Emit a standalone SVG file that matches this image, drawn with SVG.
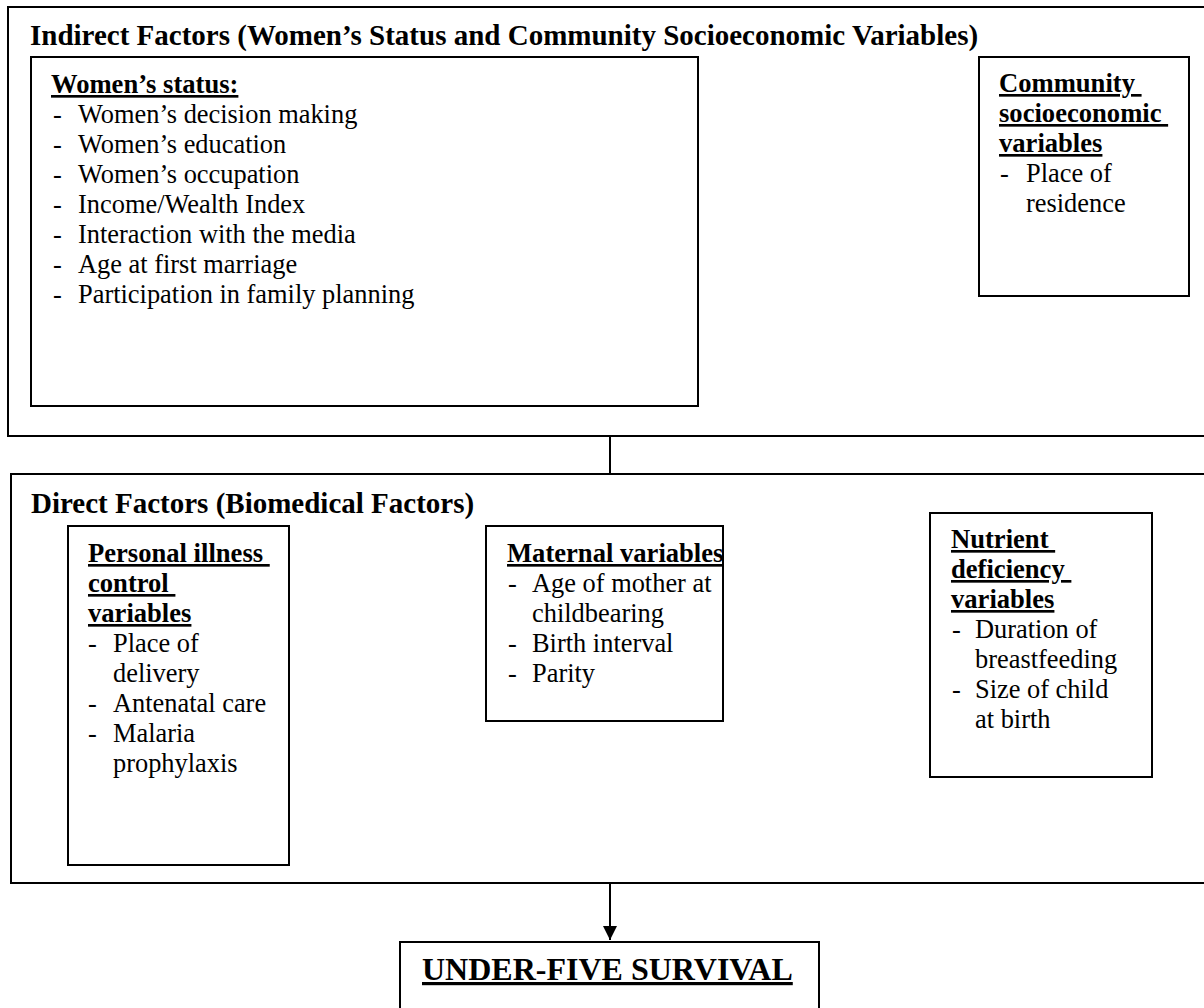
<svg xmlns="http://www.w3.org/2000/svg" width="1204" height="1008" viewBox="0 0 1204 1008">
<defs>
<style>
.box{fill:#fff;stroke:#000;stroke-width:2}
.frame{fill:none;stroke:#000;stroke-width:2}
text{font-family:"Liberation Serif","Times New Roman",serif;fill:#000}
.t{font-size:29px;font-weight:bold}
.h{font-size:26.6px;font-weight:bold;text-decoration:underline}
.i{font-size:26.4px}
.big{font-size:32px;font-weight:bold;text-decoration:underline}
.conn{stroke:#000;stroke-width:2;fill:none}
</style>
<marker id="arr" markerWidth="14" markerHeight="14" refX="14" refY="7" orient="auto" markerUnits="userSpaceOnUse">
<path d="M0,0 L14,7 L0,14 Z" fill="#000"/>
</marker>
</defs>
<rect width="1204" height="1008" fill="#fff"/>

<g id="indirect">
<rect class="frame" x="8" y="7" width="1210" height="429"/>
<text class="t" x="30" y="45">Indirect Factors (Women’s Status and Community Socioeconomic Variables)</text>
</g>

<g id="womens-status">
<rect class="box" x="31" y="57" width="667" height="349"/>
<text class="h" x="51" y="93">Women’s status:</text>
<text class="i" x="53" y="123">-</text><text class="i" x="78" y="123">Women’s decision making</text>
<text class="i" x="53" y="153">-</text><text class="i" x="78" y="153">Women’s education</text>
<text class="i" x="53" y="183">-</text><text class="i" x="78" y="183">Women’s occupation</text>
<text class="i" x="53" y="213">-</text><text class="i" x="78" y="213">Income/Wealth Index</text>
<text class="i" x="53" y="243">-</text><text class="i" x="78" y="243">Interaction with the media</text>
<text class="i" x="53" y="273">-</text><text class="i" x="78" y="273">Age at first marriage</text>
<text class="i" x="53" y="303">-</text><text class="i" x="78" y="303">Participation in family planning</text>
</g>

<g id="community">
<rect class="box" x="979" y="57" width="210" height="239"/>
<text class="h" x="999" y="92" xml:space="preserve">Community </text>
<text class="h" x="999" y="122" xml:space="preserve">socioeconomic </text>
<text class="h" x="999" y="152">variables</text>
<text class="i" x="1000" y="182">-</text><text class="i" x="1026" y="182">Place of</text>
<text class="i" x="1026" y="212">residence</text>
</g>

<g id="direct">
<rect class="frame" x="11" y="474" width="1210" height="409"/>
<text class="t" x="31" y="513">Direct Factors (Biomedical Factors)</text>
</g>

<g id="personal">
<rect class="box" x="68" y="526" width="221" height="339"/>
<text class="h" x="88" y="562" xml:space="preserve">Personal illness </text>
<text class="h" x="88" y="592" xml:space="preserve">control </text>
<text class="h" x="88" y="622">variables</text>
<text class="i" x="88" y="652">-</text><text class="i" x="113" y="652">Place of</text>
<text class="i" x="113" y="682">delivery</text>
<text class="i" x="88" y="712">-</text><text class="i" x="113" y="712">Antenatal care</text>
<text class="i" x="88" y="742">-</text><text class="i" x="113" y="742">Malaria</text>
<text class="i" x="113" y="772">prophylaxis</text>
</g>

<g id="maternal">
<rect class="box" x="486" y="526" width="237" height="195"/>
<text class="h" x="507" y="562">Maternal variables</text>
<text class="i" x="508" y="592">-</text><text class="i" x="532" y="592">Age of mother at</text>
<text class="i" x="532" y="622">childbearing</text>
<text class="i" x="508" y="652">-</text><text class="i" x="532" y="652">Birth interval</text>
<text class="i" x="508" y="682">-</text><text class="i" x="532" y="682">Parity</text>
</g>

<g id="nutrient">
<rect class="box" x="930" y="513" width="222" height="264"/>
<text class="h" x="951" y="548" xml:space="preserve">Nutrient </text>
<text class="h" x="951" y="578" xml:space="preserve">deficiency </text>
<text class="h" x="951" y="608">variables</text>
<text class="i" x="952" y="638">-</text><text class="i" x="975" y="638">Duration of</text>
<text class="i" x="975" y="668">breastfeeding</text>
<text class="i" x="952" y="698">-</text><text class="i" x="975" y="698">Size of child</text>
<text class="i" x="975" y="728">at birth</text>
</g>

<g id="under-five">
<rect class="box" x="400" y="942" width="419" height="80"/>
<text class="big" x="422" y="980">UNDER-FIVE SURVIVAL</text>
</g>

<g id="connectors">
<line class="conn" x1="610" y1="436" x2="610" y2="474"/>
<line class="conn" x1="610" y1="883" x2="610" y2="940" marker-end="url(#arr)"/>
</g>
</svg>
